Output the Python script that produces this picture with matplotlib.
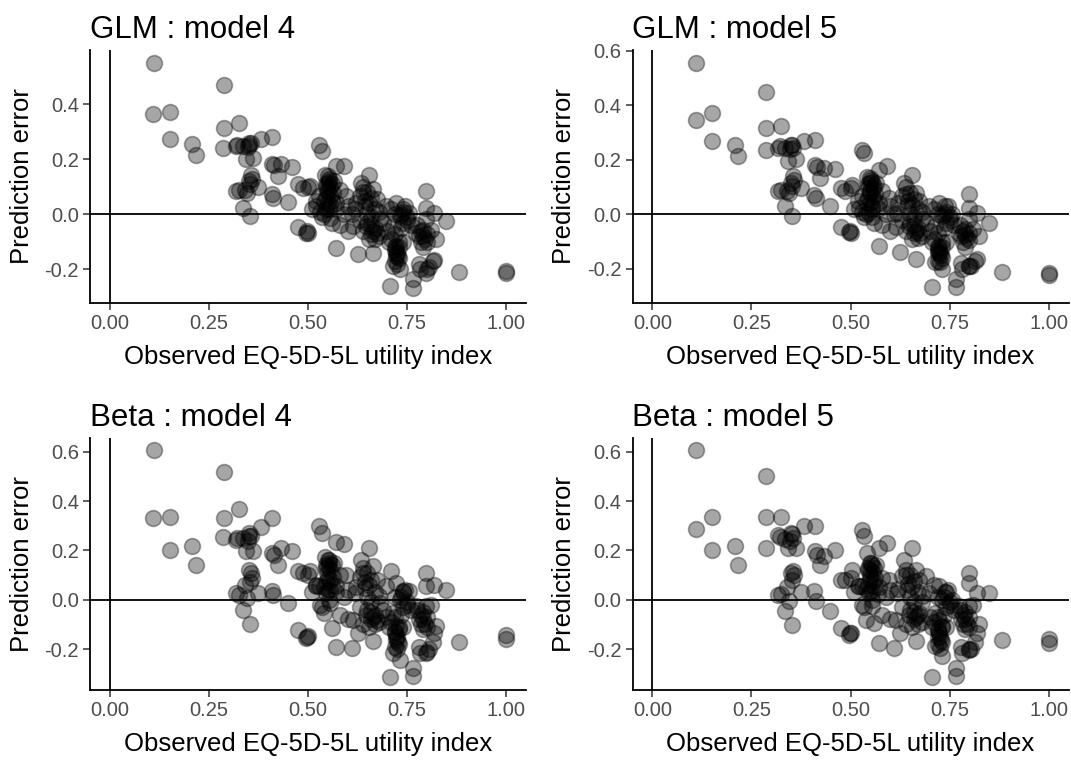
import matplotlib
matplotlib.use("Agg")
import matplotlib.pyplot as plt
import numpy as np

plt.rcParams['font.family'] = ['Liberation Sans', 'DejaVu Sans']

# ---------------- data ----------------
titles = ["GLM : model 4", "GLM : model 5", "Beta : model 4", "Beta : model 5"]
x_label = "Observed EQ-5D-5L utility index"
y_label = "Prediction error"
x_ticks = [0.00, 0.25, 0.50, 0.75, 1.00]
x_ticklabels = ["0.00", "0.25", "0.50", "0.75", "1.00"]
y_ticks_glm4 = [-0.2, 0.0, 0.2, 0.4]
y_ticks_other = [-0.2, 0.0, 0.2, 0.4, 0.6]

# observed utility (shared by all four panels)
obs = [0.111, 0.288, 0.110, 0.151, 0.151, 0.208, 0.217, 0.288, 0.325, 0.286,
       0.318, 0.322, 0.351, 0.355, 0.348, 0.382, 0.410, 0.362, 0.343, 0.410,
       0.415, 0.433, 0.460, 0.424, 0.355, 0.358, 0.353, 0.318, 0.325, 0.345,
       0.374, 0.408, 0.412, 0.449, 0.336, 0.353, 0.475, 0.475, 0.496, 0.498,
       0.500,
       0.529, 0.535, 0.571, 0.592, 0.542, 0.504, 0.487, 0.550, 0.563, 0.529,
       0.521, 0.546, 0.571, 0.597, 0.555, 0.500, 0.571,
       0.550, 0.553, 0.556, 0.550, 0.545, 0.560, 0.555, 0.540, 0.530,
       0.560, 0.570, 0.580, 0.545, 0.520, 0.510, 0.535, 0.565, 0.580, 0.590,
       0.655, 0.634, 0.664, 0.630, 0.643, 0.618, 0.673, 0.697, 0.614, 0.647,
       0.673, 0.655, 0.626, 0.664, 0.681,
       0.640, 0.650, 0.660, 0.645, 0.670, 0.660, 0.650, 0.670, 0.680, 0.660,
       0.640, 0.620, 0.630, 0.690, 0.680, 0.600, 0.610, 0.600,
       0.723, 0.739, 0.756, 0.731, 0.714, 0.773, 0.790, 0.723, 0.723, 0.714,
       0.731, 0.706, 0.765, 0.765, 0.782, 0.798, 0.819, 0.823,
       0.720, 0.725, 0.730, 0.720, 0.730, 0.710, 0.720, 0.740, 0.720, 0.745,
       0.750, 0.735, 0.710, 0.760, 0.700, 0.705, 0.740,
       0.798, 0.798, 0.819, 0.849, 0.798, 0.810, 0.780, 0.785, 0.790, 0.800,
       0.775, 0.780, 0.805, 0.815, 0.881, 1.000, 1.000,
       0.335, 0.352, 0.350, 0.340,
       0.552, 0.548, 0.556, 0.550, 0.553, 0.545, 0.560, 0.540,
       0.640, 0.655, 0.660, 0.665, 0.670, 0.650,
       0.722, 0.728, 0.725, 0.720, 0.730, 0.735, 0.740, 0.750,
       0.790, 0.795, 0.800, 0.785, 0.800]

err_glm4 = [0.552, 0.469, 0.367, 0.372, 0.276, 0.257, 0.215, 0.313, 0.333, 0.242,
            0.248, 0.252, 0.253, 0.258, 0.245, 0.273, 0.281, 0.206, 0.200, 0.185,
            0.180, 0.182, 0.172, 0.139, 0.145, 0.130, 0.109, 0.085, 0.090, 0.079,
            0.100, 0.076, 0.060, 0.046, 0.024, -0.006, 0.109, -0.045, -0.067, -0.062,
            0.100,
            0.251, 0.231, 0.176, 0.176, 0.145, 0.103, 0.097, 0.115, 0.078, 0.066,
            0.030, 0.018, 0.042, 0.066, -0.012, -0.067, -0.121,
            0.140, 0.120, 0.100, 0.080, 0.060, 0.050, 0.035, 0.000, 0.010,
            -0.030, 0.020, 0.090, 0.110, 0.050, 0.020, -0.010, 0.120, -0.040, 0.000,
            0.145, 0.115, 0.091, 0.066, 0.030, 0.018, 0.055, 0.030, -0.042, -0.042,
            -0.067, -0.091, -0.145, -0.139, -0.018,
            0.100, 0.080, 0.060, 0.050, 0.020, -0.010, -0.030, -0.050, -0.080, -0.070,
            -0.060, 0.040, -0.020, -0.030, 0.010, 0.030, 0.000, -0.060,
            0.042, 0.018, 0.006, -0.006, -0.042, -0.067, -0.055, -0.115, -0.152, -0.188,
            -0.200, -0.261, -0.267, -0.236, -0.200, -0.212, -0.164, -0.091,
            -0.130, -0.140, -0.160, -0.170, -0.120, -0.090, -0.070, -0.030, 0.000, 0.030,
            -0.010, -0.050, 0.020, -0.040, -0.060, -0.100, -0.100,
            0.085, 0.024, 0.006, -0.024, -0.018, -0.055, -0.080, -0.100, -0.120, -0.070,
            -0.040, -0.180, -0.190, -0.170, -0.210, -0.205, -0.212,
            0.250, 0.260, 0.120, 0.090,
            0.130, 0.090, 0.070, 0.040, 0.020, 0.100, 0.110, 0.050,
            0.080, 0.040, -0.040, -0.060, -0.090, 0.000,
            -0.140, -0.150, -0.180, -0.120, -0.100, 0.000, 0.010, -0.020,
            -0.080, -0.090, -0.100, -0.060, -0.200]

err_glm5 = [0.555, 0.448, 0.345, 0.372, 0.270, 0.255, 0.215, 0.316, 0.324, 0.236,
            0.245, 0.250, 0.255, 0.245, 0.240, 0.270, 0.272, 0.205, 0.195, 0.180,
            0.175, 0.170, 0.165, 0.135, 0.140, 0.125, 0.105, 0.085, 0.090, 0.080,
            0.095, 0.070, 0.060, 0.030, 0.030, -0.005, 0.095, -0.045, -0.065, -0.060,
            0.095,
            0.236, 0.225, 0.164, 0.176, 0.139, 0.109, 0.085, 0.115, 0.075, 0.066,
            0.024, 0.006, 0.042, 0.060, -0.010, -0.067, -0.115,
            0.135, 0.120, 0.095, 0.080, 0.060, 0.050, 0.030, 0.000, 0.010,
            -0.030, 0.020, 0.085, 0.110, 0.050, 0.020, -0.010, 0.115, -0.040, 0.000,
            0.145, 0.115, 0.079, 0.066, 0.030, 0.006, 0.050, 0.030, -0.045, -0.042,
            -0.067, -0.091, -0.139, -0.164, -0.018,
            0.100, 0.080, 0.055, 0.050, 0.020, -0.010, -0.030, -0.050, -0.080, -0.070,
            -0.060, 0.040, -0.020, -0.030, 0.010, 0.030, 0.000, -0.060,
            0.042, 0.030, 0.000, -0.006, -0.042, -0.067, -0.055, -0.115, -0.139, -0.176,
            -0.200, -0.267, -0.267, -0.236, -0.200, -0.188, -0.164, -0.079,
            -0.130, -0.140, -0.160, -0.170, -0.120, -0.090, -0.070, -0.030, 0.000, 0.030,
            -0.010, -0.050, 0.020, -0.040, -0.060, -0.100, -0.100,
            0.073, 0.024, 0.006, -0.030, -0.018, -0.055, -0.080, -0.100, -0.120, -0.070,
            -0.040, -0.180, -0.190, -0.170, -0.212, -0.215, -0.222,
            0.245, 0.255, 0.115, 0.085,
            0.125, 0.085, 0.065, 0.040, 0.020, 0.095, 0.105, 0.045,
            0.075, 0.035, -0.040, -0.060, -0.085, 0.000,
            -0.140, -0.150, -0.175, -0.120, -0.100, 0.000, 0.010, -0.020,
            -0.075, -0.085, -0.095, -0.060, -0.190]

err_beta4 = [0.608, 0.520, 0.331, 0.335, 0.203, 0.216, 0.142, 0.331, 0.369, 0.254,
             0.243, 0.250, 0.257, 0.260, 0.240, 0.295, 0.331, 0.196, 0.196, 0.190,
             0.180, 0.210, 0.196, 0.140, 0.108, 0.090, 0.074, 0.027, 0.020, 0.007,
             0.027, 0.034, 0.020, -0.013, -0.041, -0.097, 0.115, -0.121, -0.155, -0.150,
             0.100,
             0.300, 0.270, 0.236, 0.227, 0.175, 0.115, 0.108, 0.135, 0.094, 0.054,
             0.054, 0.027, 0.054, 0.102, -0.013, -0.149, -0.190,
             0.160, 0.150, 0.120, 0.090, 0.070, 0.060, 0.040, -0.054, -0.020,
             -0.115, 0.030, 0.100, 0.140, 0.060, 0.030, -0.030, 0.150, -0.060, 0.010,
             0.209, 0.162, 0.135, 0.094, 0.047, 0.027, 0.081, 0.054, -0.081, -0.060,
             -0.081, -0.110, -0.135, -0.169, -0.013,
             0.130, 0.110, 0.080, 0.070, 0.030, -0.010, -0.040, -0.060, -0.090, -0.080,
             -0.100, 0.050, -0.030, -0.040, 0.015, 0.040, -0.196, -0.080,
             0.067, 0.034, 0.034, 0.000, -0.054, -0.027, -0.050, -0.108, -0.162, -0.216,
             -0.243, -0.313, -0.277, -0.311, -0.216, -0.216, -0.135, -0.108,
             -0.130, -0.150, -0.180, -0.190, -0.120, -0.090, -0.070, -0.030, 0.010, 0.040,
             -0.010, -0.060, 0.115, -0.040, -0.070, -0.110, -0.110,
             0.108, 0.054, 0.061, 0.038, -0.027, -0.020, -0.080, -0.100, -0.120, -0.070,
             -0.040, -0.190, -0.200, -0.170, -0.172, -0.142, -0.158,
             0.250, 0.270, 0.120, 0.060,
             0.160, 0.110, 0.080, 0.040, 0.000, 0.130, 0.140, 0.050,
             0.110, 0.060, -0.050, -0.070, -0.100, 0.010,
             -0.150, -0.170, -0.200, -0.130, -0.110, 0.010, 0.030, -0.020,
             -0.080, -0.100, -0.110, -0.060, -0.210]

err_beta5 = [0.608, 0.500, 0.288, 0.335, 0.203, 0.216, 0.142, 0.335, 0.335, 0.209,
             0.263, 0.255, 0.270, 0.250, 0.240, 0.300, 0.300, 0.209, 0.209, 0.196,
             0.180, 0.176, 0.203, 0.142, 0.115, 0.100, 0.081, 0.020, 0.025, -0.007,
             0.030, 0.034, -0.007, -0.047, -0.047, -0.101, 0.081, -0.115, -0.142, -0.135,
             0.090,
             0.284, 0.260, 0.209, 0.230, 0.189, 0.122, 0.081, 0.122, 0.090, 0.054,
             0.054, 0.027, 0.050, 0.081, -0.027, -0.135, -0.176,
             0.150, 0.140, 0.110, 0.085, 0.065, 0.055, 0.035, -0.081, -0.020,
             -0.095, 0.025, 0.090, 0.130, 0.055, 0.030, -0.030, 0.140, -0.060, 0.010,
             0.209, 0.162, 0.122, 0.095, 0.040, 0.027, 0.081, 0.027, -0.081, -0.060,
             -0.054, -0.110, -0.135, -0.169, -0.010,
             0.120, 0.100, 0.075, 0.065, 0.030, -0.010, -0.040, -0.060, -0.090, -0.080,
             -0.100, 0.045, -0.030, 0.095, 0.015, 0.040, -0.196, -0.080,
             0.054, 0.030, 0.000, 0.000, -0.054, -0.027, -0.050, -0.081, -0.135, -0.189,
             -0.230, -0.313, -0.277, -0.311, -0.216, -0.203, -0.135, -0.100,
             -0.120, -0.150, -0.170, -0.180, -0.110, -0.090, -0.070, -0.030, 0.010, 0.040,
             -0.010, -0.060, 0.060, -0.040, -0.070, -0.110, -0.110,
             0.108, 0.068, 0.027, 0.027, -0.027, -0.020, -0.080, -0.100, -0.120, -0.070,
             -0.040, -0.190, -0.200, -0.170, -0.165, -0.160, -0.175,
             0.245, 0.265, 0.110, 0.050,
             0.150, 0.100, 0.075, 0.035, 0.000, 0.120, 0.130, 0.045,
             0.100, 0.055, -0.050, -0.070, -0.100, 0.010,
             -0.150, -0.165, -0.195, -0.125, -0.105, 0.010, 0.030, -0.020,
             -0.080, -0.100, -0.110, -0.060, -0.200]

errors = [err_glm4, err_glm5, err_beta4, err_beta5]
y_ticks = [y_ticks_glm4, y_ticks_other, y_ticks_other, y_ticks_other]

# ---------------- layout ----------------
W, H = 1071, 760
fig = plt.figure(figsize=(W / 100, H / 100), dpi=100)
fig.patch.set_facecolor("white")

def frac_rect(left, top, right, bottom):
    return [left / W, 1 - bottom / H, (right - left) / W, (bottom - top) / H]

rects = [frac_rect(90, 50, 526, 303), frac_rect(632.5, 50, 1068.5, 303),
         frac_rect(90, 438, 526, 690), frac_rect(632.5, 438, 1068.5, 690)]
ylims = [(-0.322, 0.598), (-0.325, 0.603), (-0.366, 0.656), (-0.366, 0.656)]

tick_color = "#4d4d4d"
for i in range(4):
    ax = fig.add_axes(rects[i])
    x = np.array(obs)
    y = np.array(errors[i])
    ax.axhline(0, color="black", lw=1.3, zorder=1)
    ax.axvline(0, color="black", lw=1.3, zorder=1)
    ax.scatter(x, y, s=130, facecolor=(0, 0, 0, 0.35), edgecolor=(0, 0, 0, 0.35),
               linewidths=1.2, zorder=2)
    ax.set_xlim(-0.05, 1.05)
    ax.set_ylim(*ylims[i])
    ax.set_xticks(x_ticks)
    ax.set_xticklabels(x_ticklabels)
    ax.set_yticks(y_ticks[i])
    ax.set_yticklabels([f"{v:.1f}" for v in y_ticks[i]])
    for s in ("top", "right"):
        ax.spines[s].set_visible(False)
    for s in ("left", "bottom"):
        ax.spines[s].set_linewidth(1.3)
        ax.spines[s].set_color("black")
    ax.tick_params(axis="both", length=5, width=1.1, color="#333333",
                   labelsize=14.5, labelcolor=tick_color, pad=3)
    ax.set_xlabel(x_label, fontsize=18.5, color="black")
    ax.set_ylabel(y_label, fontsize=18.5, color="black")
    ax.xaxis.set_label_coords(0.5, -0.215)
    ax.xaxis.label.set_va("center")
    ax.yaxis.set_label_coords(-0.156, 0.5)
    ax.yaxis.label.set_va("center")
    ax.set_title(titles[i], loc="left", fontsize=22.5, color="black", pad=9)

fig.savefig("out.png", dpi=100, facecolor="white")
